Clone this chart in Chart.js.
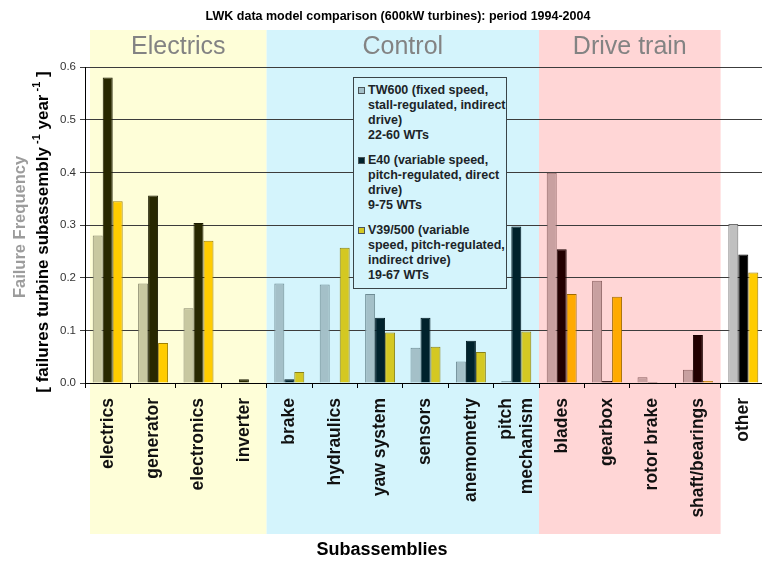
<!DOCTYPE html>
<html lang="en">
<head>
<meta charset="UTF-8">
<title>LWK data model comparison</title>
<script src="https://cdn.jsdelivr.net/npm/chart.js"></script>
<style>
  body { margin: 0; background: #fff; overflow: hidden; }
  #wrap { position: relative; width: 768px; height: 562px; }
  #legend {
    position: absolute; left: 353px; top: 77px; width: 152px; height: 210px;
    background: #d4f4fc; border: 1px solid #3a4448;
    font: bold 12.5px "Liberation Sans", Arial, sans-serif; color: #1c2428;
    line-height: 15px; white-space: nowrap;
  }
  .item { position: relative; padding-left: 14px; margin-top: 10px; }
  .item:first-child { margin-top: 5px; }
  .sw { position: absolute; left: 4px; top: 4px; width: 5px; height: 5px; border: 1px solid #4a5458; }
</style>
</head>
<body>
<div id="wrap">
  <canvas id="chart" width="768" height="562"></canvas>
  <div id="legend">
    <div class="item"><span class="sw" style="background:#a4c0c8"></span>TW600 (fixed speed,<br>stall-regulated, indirect<br>drive)<br>22-60 WTs</div>
    <div class="item"><span class="sw" style="background:#00222c"></span>E40 (variable speed,<br>pitch-regulated, direct<br>drive)<br>9-75 WTs</div>
    <div class="item"><span class="sw" style="background:#d4c822"></span>V39/500 (variable<br>speed, pitch-regulated,<br>indirect drive)<br>19-67 WTs</div>
  </div>
</div>

<script>
  // data
  const categories = ['electrics', 'generator', 'electronics', 'inverter', 'brake', 'hydraulics',
    'yaw system', 'sensors', 'anemometry', ['pitch', 'mechanism'], 'blades', 'gearbox',
    'rotor brake', 'shaft/bearings', 'other'];
  const groups = ['Electrics', 'Electrics', 'Electrics', 'Electrics',
    'Control', 'Control', 'Control', 'Control', 'Control', 'Control',
    'Drive train', 'Drive train', 'Drive train', 'Drive train', 'other'];
  const sectionNames = ['Electrics', 'Control', 'Drive train'];
  const seriesNames = ['TW600', 'E40', 'V39/500'];

  const tw600 = [0.280, 0.189, 0.142, 0, 0.189, 0.187, 0.169, 0.067, 0.041, 0.004, 0.399, 0.194, 0.011, 0.025, 0.302];
  const e40 = [0.580, 0.356, 0.304, 0.007, 0.007, 0, 0.124, 0.124, 0.080, 0.297, 0.254, 0.004, 0.002, 0.091, 0.244];
  const v39 = [0.345, 0.076, 0.270, 0, 0.021, 0.257, 0.096, 0.069, 0.059, 0.098, 0.169, 0.164, 0, 0.004, 0.210];

  const palette = {
    'Electrics': { fill: ['#c8c8a0', '#282800', '#ffcc00'], line: ['#86866a', '#1a1a00', '#a08000'], band: '#fefed8' },
    'Control': { fill: ['#a4c0c8', '#00222c', '#d4c822'], line: ['#6e8c94', '#001a22', '#8a8216'], band: '#d4f4fc' },
    'Drive train': { fill: ['#c8a0a0', '#220000', '#ffaa00'], line: ['#8c6262', '#180000', '#a06a00'], band: '#ffd6d6' },
    'other': { fill: ['#c0c0c0', '#000000', '#ffcc00'], line: ['#707070', '#000000', '#9c7c00'], band: null }
  };

  const FONT = '"Liberation Sans", Arial, sans-serif';

  // background bands, headings, axis titles and category labels
  const decor = {
    id: 'decor',
    beforeDraw(chart) {
      const { ctx } = chart;
      const x = chart.scales.x;
      const half = (x.getPixelForValue(1) - x.getPixelForValue(0)) / 2;
      ctx.save();
      ctx.fillStyle = '#fff';
      ctx.fillRect(0, 0, chart.width, chart.height);
      sectionNames.forEach(name => {
        const idx = groups.map((g, i) => g === name ? i : -1).filter(i => i >= 0);
        let left = x.getPixelForValue(idx[0]) - half;
        if (idx[0] === 0) left += 5;
        const right = x.getPixelForValue(idx[idx.length - 1]) + half;
        ctx.fillStyle = palette[name].band;
        ctx.fillRect(left, 30, right - left, 504);
        ctx.fillStyle = '#838383';
        ctx.font = '25px ' + FONT;
        ctx.textAlign = 'center';
        ctx.textBaseline = 'middle';
        ctx.fillText(name, (left + right) / 2, 47);
      });
      ctx.restore();
    },
    afterDraw(chart) {
      const { ctx } = chart;
      const x = chart.scales.x;
      ctx.save();
      ctx.fillStyle = '#000';
      ctx.textAlign = 'center';
      ctx.textBaseline = 'middle';
      ctx.font = 'bold 12.5px ' + FONT;
      ctx.fillText('LWK data model comparison (600kW turbines): period 1994-2004', 398, 17);
      ctx.font = 'bold 18px ' + FONT;
      ctx.fillText('Subassemblies', 382, 550);

      // category labels, rotated
      ctx.font = 'bold 17.5px ' + FONT;
      ctx.fillStyle = '#111';
      ctx.textAlign = 'right';
      categories.forEach((lab, i) => {
        const lines = Array.isArray(lab) ? lab : [lab];
        const cx = x.getPixelForValue(i);
        lines.forEach((ln, j) => {
          ctx.save();
          ctx.translate(cx + (j - (lines.length - 1) / 2) * 21, 398);
          ctx.rotate(-Math.PI / 2);
          ctx.fillText(ln, 0, 0);
          ctx.restore();
        });
      });

      // y titles
      ctx.save();
      ctx.translate(20, 227);
      ctx.rotate(-Math.PI / 2);
      ctx.textAlign = 'center';
      ctx.fillStyle = '#9c9c9c';
      ctx.font = 'bold 16.5px ' + FONT;
      ctx.fillText('Failure Frequency', 0, 0);
      ctx.restore();

      const parts = [['[ failures turbine subassembly', false], [' -1', true], [' year', false], [' -1', true], [' ]', false]];
      const big = 'bold 17px ' + FONT, small = 'bold 11px ' + FONT;
      let total = 0;
      parts.forEach(p => { ctx.font = p[1] ? small : big; total += ctx.measureText(p[0]).width; });
      ctx.save();
      ctx.translate(43, 232);
      ctx.rotate(-Math.PI / 2);
      ctx.textAlign = 'left';
      ctx.fillStyle = '#000';
      let pos = -total / 2;
      parts.forEach(p => {
        ctx.font = p[1] ? small : big;
        ctx.fillText(p[0], pos, p[1] ? -6 : 0);
        pos += ctx.measureText(p[0]).width;
      });
      ctx.restore();
      ctx.restore();
    }
  };

  const series = [tw600, e40, v39];

  new Chart(document.getElementById('chart'), {
    type: 'bar',
    data: {
      labels: categories,
      datasets: series.map((d, k) => ({
        label: seriesNames[k],
        data: d,
        backgroundColor: groups.map(g => palette[g].fill[k]),
        borderColor: groups.map(g => palette[g].line[k]),
        borderWidth: 1,
        categoryPercentage: 0.66,
        barPercentage: 1
      }))
    },
    options: {
      responsive: false,
      animation: false,
      devicePixelRatio: 1,
      layout: { padding: { top: 67, right: 2, left: 0, bottom: 0 } },
      plugins: {
        legend: { display: false },
        tooltip: { enabled: false }
      },
      scales: {
        x: {
          grid: { drawOnChartArea: false, drawTicks: true, tickLength: 5, color: '#000' },
          border: { color: '#000' },
          ticks: { display: false },
          afterFit(s) { s.height = 179; }
        },
        y: {
          min: 0,
          max: 0.6,
          ticks: {
            stepSize: 0.1,
            padding: 4,
            color: '#333',
            font: { family: FONT, size: 11.5 },
            callback: v => v.toFixed(1)
          },
          grid: { color: '#3c3c3c', tickLength: 5 },
          border: { color: '#000' },
          afterFit(s) { s.width = 85; }
        }
      }
    },
    plugins: [decor]
  });
</script>
</body>
</html>
